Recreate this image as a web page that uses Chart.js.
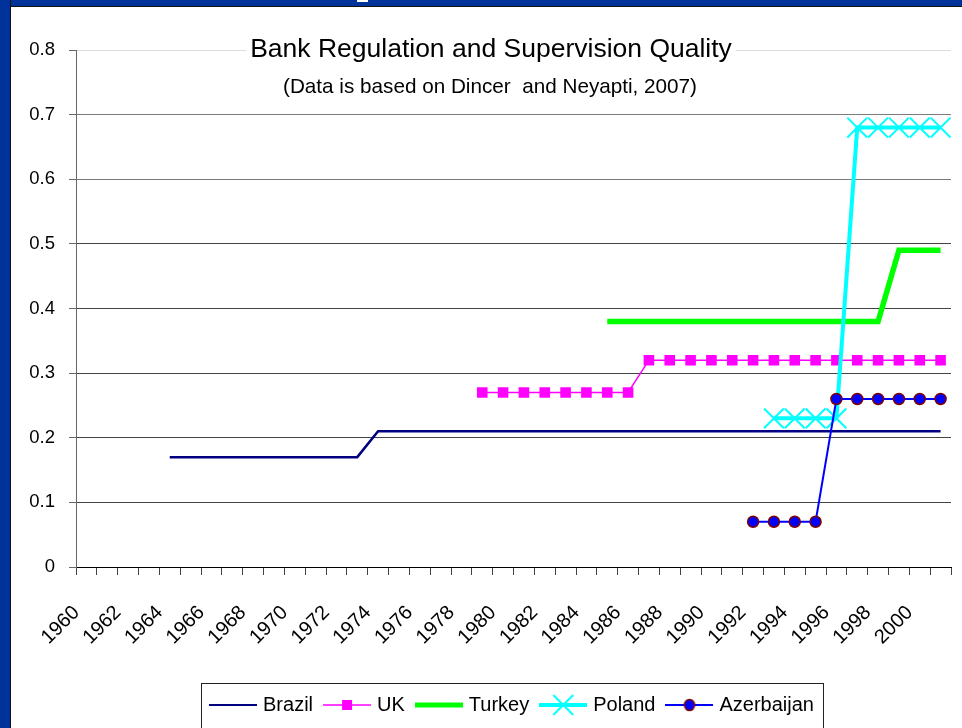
<!DOCTYPE html>
<html>
<head>
<meta charset="utf-8">
<script src="https://cdn.jsdelivr.net/npm/chart.js@4"></script>
<style>
  html, body { margin: 0; padding: 0; background: #fff; }
  body { width: 962px; height: 728px; position: relative; overflow: hidden; }
  .band-top { position: absolute; left: 0; top: 0; width: 962px; height: 6px; background: #003399; border-bottom: 1px solid #111; }
  .band-left { position: absolute; left: 0; top: 0; width: 10px; height: 728px; background: #003399; border-right: 1px solid #111; }
  .band-nick { position: absolute; left: 357px; top: 0; width: 11px; height: 2px; background: #fff; }
  #chart { position: absolute; left: 11px; top: 7px; }
</style>
</head>
<body>
<div class="band-top"></div>
<div class="band-left"></div>
<div class="band-nick"></div>
<canvas id="chart" width="951" height="721"></canvas>
<script>
// years on the category axis
const years = [
  '1960', '1961', '1962', '1963', '1964', '1965', '1966', '1967', '1968', '1969',
  '1970', '1971', '1972', '1973', '1974', '1975', '1976', '1977', '1978', '1979',
  '1980', '1981', '1982', '1983', '1984', '1985', '1986', '1987', '1988', '1989',
  '1990', '1991', '1992', '1993', '1994', '1995', '1996', '1997', '1998', '1999',
  '2000', '2001'
];

// index values per country, one row per decade
const brazil = [
  null, null, null, null, 0.17, 0.17, 0.17, 0.17, 0.17, 0.17,
  0.17, 0.17, 0.17, 0.17, 0.21, 0.21, 0.21, 0.21, 0.21, 0.21,
  0.21, 0.21, 0.21, 0.21, 0.21, 0.21, 0.21, 0.21, 0.21, 0.21,
  0.21, 0.21, 0.21, 0.21, 0.21, 0.21, 0.21, 0.21, 0.21, 0.21,
  0.21, 0.21
];
const uk = [
  null, null, null, null, null, null, null, null, null, null,
  null, null, null, null, null, null, null, null, null, 0.27,
  0.27, 0.27, 0.27, 0.27, 0.27, 0.27, 0.27, 0.32, 0.32, 0.32,
  0.32, 0.32, 0.32, 0.32, 0.32, 0.32, 0.32, 0.32, 0.32, 0.32,
  0.32, 0.32
];
const turkey = [
  null, null, null, null, null, null, null, null, null, null,
  null, null, null, null, null, null, null, null, null, null,
  null, null, null, null, null, 0.38, 0.38, 0.38, 0.38, 0.38,
  0.38, 0.38, 0.38, 0.38, 0.38, 0.38, 0.38, 0.38, 0.38, 0.49,
  0.49, 0.49
];
const poland = [
  null, null, null, null, null, null, null, null, null, null,
  null, null, null, null, null, null, null, null, null, null,
  null, null, null, null, null, null, null, null, null, null,
  null, null, null, 0.23, 0.23, 0.23, 0.23, 0.68, 0.68, 0.68,
  0.68, 0.68
];
const azerbaijan = [
  null, null, null, null, null, null, null, null, null, null,
  null, null, null, null, null, null, null, null, null, null,
  null, null, null, null, null, null, null, null, null, null,
  null, null, 0.07, 0.07, 0.07, 0.07, 0.26, 0.26, 0.26, 0.26,
  0.26, 0.26
];

const yTicks = [0, 0.1, 0.2, 0.3, 0.4, 0.5, 0.6, 0.7, 0.8];

const titleText = 'Bank Regulation and Supervision Quality';
const subtitleText = '(Data is based on Dincer  and Neyapti, 2007)';

const FONT = '"Liberation Sans", Arial, sans-serif';

// plot rectangle inside the canvas
const PLOT = { left: 65, right: 940, top: 43, bottom: 560 };

// small line-plus-marker samples for the legend
function legendIcon(color, width, marker) {
  const c = document.createElement('canvas');
  c.width = 48;
  c.height = 24;
  const g = c.getContext('2d');
  const cy = 12;
  g.strokeStyle = color;
  g.lineWidth = width;
  g.lineCap = 'butt';
  g.beginPath();
  g.moveTo(0, cy);
  g.lineTo(48, cy);
  g.stroke();
  const cx = 24;
  if (marker === 'rect') {
    g.fillStyle = color;
    g.fillRect(cx - 5, cy - 5, 10, 10);
  } else if (marker === 'cross') {
    g.lineWidth = 2;
    g.beginPath();
    g.moveTo(cx - 10, cy - 10); g.lineTo(cx + 10, cy + 10);
    g.moveTo(cx + 10, cy - 10); g.lineTo(cx - 10, cy + 10);
    g.stroke();
  } else if (marker === 'circle') {
    g.fillStyle = '#0000ff';
    g.strokeStyle = '#800000';
    g.lineWidth = 1.5;
    g.beginPath();
    g.ellipse(cx, cy, 5, 5.5, 0, 0, Math.PI * 2);
    g.fill();
    g.stroke();
  }
  return c;
}

const icons = [
  legendIcon('#000080', 2, null),
  legendIcon('#ff00ff', 1.5, 'rect'),
  legendIcon('#00ff00', 5, null),
  legendIcon('#00ffff', 4, 'cross'),
  legendIcon('#0000ff', 2, 'circle')
];

// heading drawn inside the plot with a white backing
const headingPlugin = {
  id: 'heading',
  afterDraw(chart) {
    const ctx = chart.ctx;
    ctx.save();
    ctx.textAlign = 'center';
    ctx.textBaseline = 'middle';
    ctx.font = '26.5px ' + FONT;
    const w = ctx.measureText(titleText).width;
    ctx.fillStyle = '#fff';
    ctx.fillRect(480 - w / 2 - 4, 29, w + 8, 28);
    ctx.fillStyle = '#000';
    ctx.fillText(titleText, 480, 43);
    ctx.font = '20.7px ' + FONT;
    ctx.fillText(subtitleText, 479, 80);
    ctx.restore();
  }
};

// pin the plot rectangle, then re-place the axes around it
const plotBoxPlugin = {
  id: 'plotBox',
  afterLayout(chart) {
    const a = chart.chartArea;
    a.left = PLOT.left; a.right = PLOT.right;
    a.top = PLOT.top; a.bottom = PLOT.bottom;
    a.width = a.right - a.left; a.height = a.bottom - a.top;
    const x = chart.scales.x, y = chart.scales.y;
    x.left = a.left; x.right = a.right; x.width = a.width;
    x.top = a.bottom; x.bottom = a.bottom + x.height;
    y.top = a.top; y.bottom = a.bottom; y.height = a.height;
    y.right = a.left; y.left = a.left - y.width;
    x.configure();
    y.configure();
    const lg = chart.legend;
    if (lg) { lg.left += 27; lg.right += 27; }
  },
  afterDraw(chart) {
    const boxes = chart.legend && chart.legend.legendHitBoxes;
    if (!boxes || !boxes.length) return;
    const left = Math.min(...boxes.map(b => b.left)) - 12;
    const right = Math.max(...boxes.map(b => b.left + b.width)) + 9;
    const cy = boxes[0].top + boxes[0].height / 2;
    const ctx = chart.ctx;
    ctx.save();
    ctx.strokeStyle = '#222';
    ctx.lineWidth = 1;
    ctx.strokeRect(Math.round(left) + 0.5, Math.round(cy - 22.5) + 0.5, Math.round(right - left), 45);
    ctx.restore();
  }
};

const ctx = document.getElementById('chart').getContext('2d');
new Chart(ctx, {
  type: 'line',
  data: {
    labels: years,
    datasets: [
      {
        label: 'Brazil', data: brazil, order: 5,
        borderColor: '#000080', borderWidth: 2.5, pointRadius: 0
      },
      {
        label: 'UK', data: uk, order: 4,
        borderColor: '#ff00ff', borderWidth: 1.5,
        pointStyle: 'rect', pointRadius: 7.5,
        pointBackgroundColor: '#ff00ff', pointBorderColor: '#ff00ff', pointBorderWidth: 0
      },
      {
        label: 'Turkey', data: turkey, order: 3,
        borderColor: '#00ff00', borderWidth: 5.5, pointRadius: 0
      },
      {
        label: 'Poland', data: poland, order: 2,
        borderColor: '#00ffff', borderWidth: 4,
        pointStyle: 'crossRot', pointRadius: 14,
        pointBorderColor: '#00ffff', pointBorderWidth: 2
      },
      {
        label: 'Azerbaijan', data: azerbaijan, order: 1,
        borderColor: '#0000ff', borderWidth: 2,
        pointStyle: 'circle', pointRadius: 5.5,
        pointBackgroundColor: '#0000ff', pointBorderColor: '#800000', pointBorderWidth: 1.5
      }
    ]
  },
  options: {
    responsive: false,
    animation: false,
    spanGaps: false,
    layout: { padding: { top: 43, right: 0, left: 0, bottom: 3 } },
    elements: { line: { tension: 0, borderCapStyle: 'butt', borderJoinStyle: 'miter' } },
    scales: {
      x: {
        offset: true,
        grid: {
          offset: true,
          drawOnChartArea: false,
          drawTicks: true,
          tickLength: 8,
          color: '#444'
        },
        border: { display: true, color: '#000', width: 1 },
        ticks: {
          autoSkip: false,
          minRotation: 45,
          maxRotation: 45,
          padding: 26,
          labelOffset: -10,
          color: '#000',
          font: { family: FONT, size: 20 },
          callback: (v, i) => (i % 2 === 0 ? years[i] : '')
        },
        afterFit: scale => { scale.height = 113; }
      },
      y: {
        min: 0,
        max: 0.8,
        afterBuildTicks: scale => { scale.ticks = yTicks.map(v => ({ value: v })); },
        grid: {
          color: c => (c.tick && c.tick.value === 0.8 ? '#dcdcdc' : (c.tick && c.tick.value >= 0.6 ? '#7a7a7a' : '#444')),
          tickColor: '#666',
          tickLength: 7
        },
        border: { display: true, color: '#666', width: 1 },
        ticks: {
          padding: 14,
          color: '#000',
          font: { family: FONT, size: 18.5 },
          callback: v => (v === 0 ? '0' : v.toFixed(1))
        },
        afterFit: scale => { scale.width = 65; }
      }
    },
    plugins: {
      tooltip: { enabled: false },
      legend: {
        position: 'bottom',
        labels: {
          usePointStyle: true,
          pointStyleWidth: 40,
          padding: 14,
          color: '#000',
          font: { family: FONT, size: 20 },
          generateLabels: chart => chart.data.datasets.map((ds, i) => ({
            text: ds.label,
            pointStyle: icons[i],
            datasetIndex: i,
            hidden: false,
            lineWidth: 0,
            strokeStyle: 'rgba(0,0,0,0)',
            fillStyle: 'rgba(0,0,0,0)'
          }))
        }
      }
    }
  },
  plugins: [headingPlugin, plotBoxPlugin]
});
</script>
</body>
</html>
